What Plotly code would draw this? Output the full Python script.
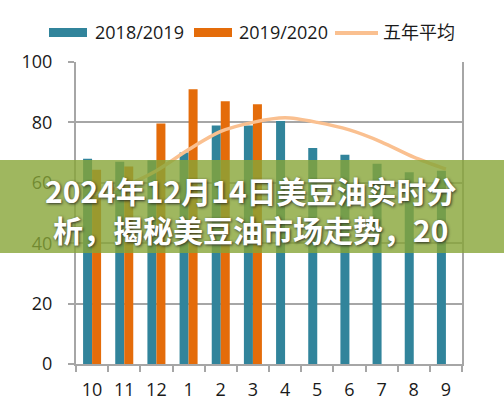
import plotly.graph_objects as go

# data
months = ['10', '11', '12', '1', '2', '3', '4', '5', '6', '7', '8', '9']
s_2018_2019 = [68, 67, 67.5, 70, 79, 79, 80.5, 71.5, 69.3, 66.3, 63.5, 64]
s_2019_2020 = [64.3, 65.4, 79.6, 91, 87, 86, None, None, None, None, None, None]
avg_5y = [56, 59, 64, 71, 77, 80, 81.5, 80, 77.5, 73.5, 68.5, 64.5]
y_ticks = [0, 20, 40, 60, 80, 100]

banner_text = '2024年12月14日美豆油实时分<br>析，揭秘美豆油市场走势，20'

BLUE = '#31849B'
ORANGE = '#E46C0A'
PEACH = '#FAC090'

# figure geometry in pixels
W, H = 504, 419
L, R, T, B = 76, 42, 62, 55
pw, ph = W - L - R, H - T - B


def px(x):
    return (x - L) / pw


def py(y):
    return (H - B - y) / ph


fig = go.Figure()
fig.add_trace(go.Bar(x=months, y=s_2018_2019, name='2018/2019',
                     marker=dict(color=BLUE, line=dict(width=0))))
fig.add_trace(go.Bar(x=months, y=s_2019_2020, name='2019/2020',
                     marker=dict(color=ORANGE, line=dict(width=0))))
fig.add_trace(go.Scatter(x=months, y=avg_5y, name='五年平均', mode='lines',
                         line=dict(color=PEACH, width=3.5, shape='spline', smoothing=0.8)))

font = dict(family='Open Sans, Noto Sans CJK SC, sans-serif', size=18, color='#1a1a1a')

fig.update_layout(
    width=W, height=H,
    margin=dict(l=L, r=R, t=T, b=B),
    paper_bgcolor='white', plot_bgcolor='white',
    showlegend=False,
    barmode='group', bargap=0.44, bargroupgap=0,
    font=font,
)
fig.update_xaxes(type='category', showline=True, linecolor='#A6A6A6', linewidth=2,
                 ticks='outside', tickson='boundaries', ticklen=6, tickcolor='#A6A6A6',
                 tickwidth=1.5, showgrid=False, ticklabelstandoff=8, tickfont=font)
fig.update_yaxes(range=[0, 100], tickvals=y_ticks, showline=True, mirror=True,
                 linecolor='#A6A6A6', linewidth=2, ticks='outside', ticklen=6,
                 tickcolor='#A6A6A6', tickwidth=1.5, showgrid=True, gridcolor='#A6A6A6',
                 gridwidth=1.5, zeroline=False, ticklabelstandoff=12, tickfont=font)

# hand drawn legend above the plot
legend_items = [('rect', BLUE, 49, 87, 93, '2018/2019'),
                ('rect', ORANGE, 194, 232, 237, '2019/2020'),
                ('line', PEACH, 335, 378, 381, '五年平均')]
for kind, color, x0, x1, xt, label in legend_items:
    if kind == 'rect':
        fig.add_shape(type='rect', xref='paper', yref='paper',
                      x0=px(x0), x1=px(x1), y0=py(37), y1=py(28),
                      fillcolor=color, line=dict(width=0))
    else:
        fig.add_shape(type='line', xref='paper', yref='paper',
                      x0=px(x0), x1=px(x1), y0=py(33), y1=py(33),
                      line=dict(color=color, width=4))
    fig.add_annotation(x=px(xt), y=py(32), xref='paper', yref='paper',
                       text=label, showarrow=False, xanchor='left', yanchor='middle',
                       font=font)

# green banner with headline on top of the chart
fig.add_shape(type='rect', xref='paper', yref='paper', layer='above',
              x0=px(0), x1=px(W), y0=py(253), y1=py(160),
              fillcolor='rgba(135,165,55,0.8)', line=dict(width=0))
fig.add_annotation(x=px(251), y=py(209), xref='paper', yref='paper',
                   text=banner_text, showarrow=False, align='center',
                   xanchor='center', yanchor='middle',
                   font=dict(family='Noto Sans CJK SC, sans-serif', size=30,
                             color='white', weight='bold',
                             shadow='1px 1px 3px rgba(30,30,30,0.85)'))

# drop the browser's default body margin so the figure sits at the page corner
fig.write_html('out.html', config={'displayModeBar': False},
               post_script="document.body.style.margin='0';")
